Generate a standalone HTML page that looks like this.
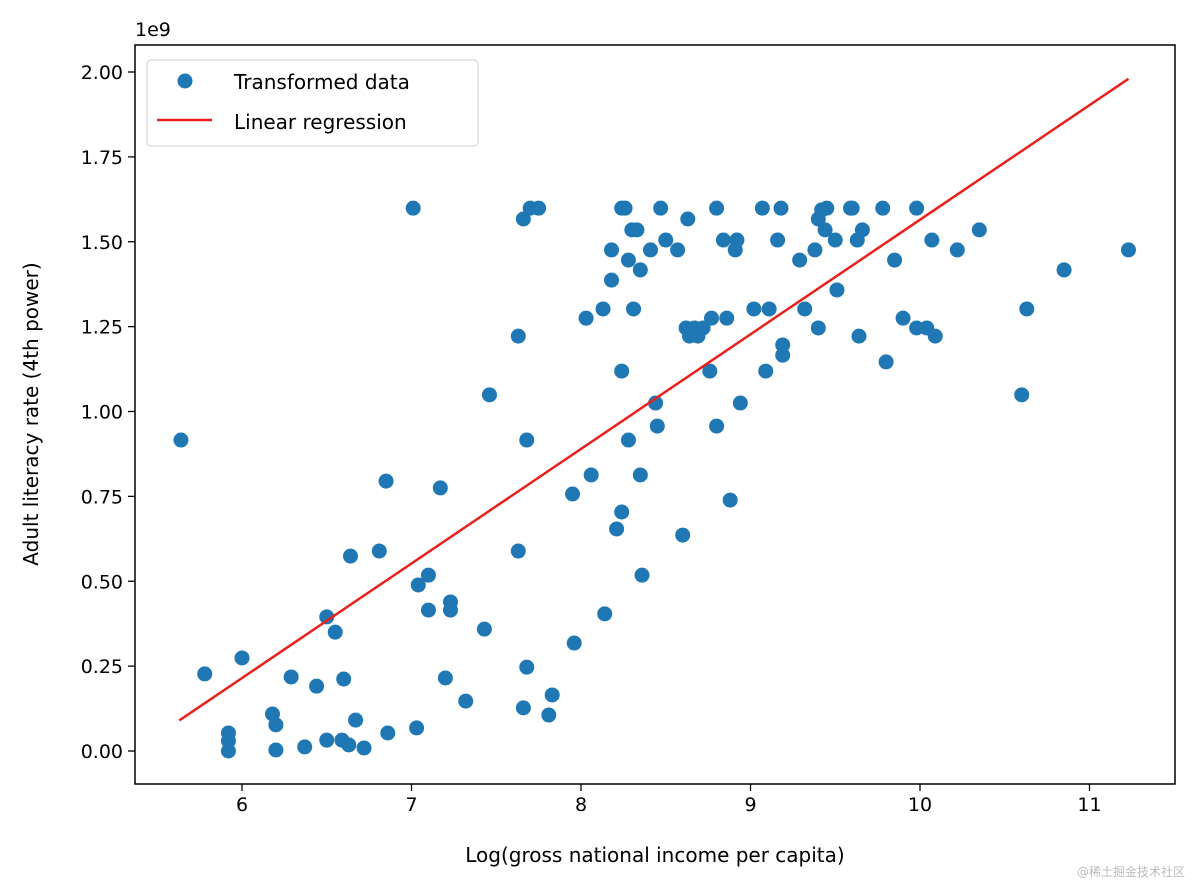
<!DOCTYPE html>
<html><head><meta charset="utf-8"><style>
body{margin:0;background:#fff;width:1194px;height:886px;overflow:hidden}
svg text{font-family:"DejaVu Sans","Liberation Sans",sans-serif;fill:#000}
</style></head><body>
<svg id="chart" width="1194" height="886" xmlns="http://www.w3.org/2000/svg"></svg>
<script>
const xVals=[5.64,5.78,5.92,5.92,5.92,6.0,6.18,6.20,6.20,6.29,6.37,6.44,6.50,6.50,6.55,6.59,6.60,6.63,6.64,6.67,6.72,6.81,6.85,6.86,7.01,7.03,7.04,7.10,7.10,7.17,7.20,7.23,7.23,7.32,7.43,7.46,7.63,7.63,7.66,7.66,7.68,7.68,7.70,7.75,7.81,7.83,7.95,7.96,8.03,8.06,8.13,8.14,8.18,8.18,8.21,8.24,8.24,8.24,8.26,8.28,8.28,8.30,8.33,8.31,8.35,8.35,8.36,8.41,8.44,8.45,8.47,8.50,8.57,8.60,8.62,8.63,8.64,8.67,8.69,8.72,8.76,8.77,8.80,8.80,8.84,8.86,8.88,8.91,8.92,8.94,9.02,9.07,9.09,9.11,9.16,9.18,9.19,9.19,9.29,9.32,9.38,9.40,9.42,9.40,9.44,9.45,9.50,9.51,9.59,9.60,9.63,9.64,9.66,9.78,9.80,9.85,9.90,9.98,9.98,10.04,10.07,10.09,10.22,10.35,10.60,10.63,10.85,11.23];
const yVals=[0.916,0.227,0.053,0.030,0.0,0.274,0.109,0.077,0.003,0.218,0.012,0.191,0.395,0.032,0.350,0.032,0.212,0.018,0.574,0.091,0.009,0.589,0.795,0.053,1.599,0.068,0.489,0.415,0.518,0.775,0.215,0.439,0.415,0.147,0.359,1.049,1.222,0.589,1.567,0.127,0.916,0.247,1.599,1.599,0.106,0.165,0.757,0.318,1.275,0.813,1.302,0.404,1.476,1.387,0.654,1.119,0.704,1.599,1.599,1.446,0.916,1.535,1.535,1.302,0.813,1.417,0.518,1.476,1.025,0.957,1.599,1.505,1.476,0.636,1.246,1.567,1.222,1.246,1.222,1.246,1.119,1.275,0.957,1.599,1.505,1.275,0.739,1.476,1.505,1.025,1.302,1.599,1.119,1.302,1.505,1.599,1.166,1.196,1.446,1.302,1.476,1.567,1.594,1.246,1.535,1.599,1.505,1.358,1.599,1.599,1.505,1.222,1.535,1.599,1.146,1.446,1.275,1.599,1.246,1.246,1.505,1.222,1.476,1.535,1.049,1.302,1.417,1.476];
const regX=[5.63,11.23];
const regY=[0.09,1.98];
const xTicks=[6,7,8,9,10,11];
const yTicks=[0,0.25,0.5,0.75,1.0,1.25,1.5,1.75,2.0];
const yTickLabels=["0.00","0.25","0.50","0.75","1.00","1.25","1.50","1.75","2.00"];

const L=135,R=1175,T=45,B=784;
const sx=v=>242+(v-6)*169.5;
const sy=v=>751-v*339.5;
const svg=document.getElementById('chart');
const NS='http://www.w3.org/2000/svg';
function mk(tag,attrs,parent){const e=document.createElementNS(NS,tag);for(const k in attrs)e.setAttribute(k,attrs[k]);(parent||svg).appendChild(e);return e;}

const pts=mk('g',{});


xVals.forEach((x,i)=>{
  const c=mk('circle',{cx:sx(x),cy:sy(yVals[i]),r:7.5,fill:'#1f77b4'},pts);
  
  
});
const rl=mk('line',{x1:sx(regX[0]),y1:sy(regY[0]),x2:sx(regX[1]),y2:sy(regY[1]),stroke:'#e8211d','stroke-width':2.5});



const frame=mk('rect',{x:L,y:T,width:R-L,height:B-T,fill:'none',stroke:'#000','stroke-width':1.5});



xTicks.forEach(t=>{
  const x=sx(t);
  mk('line',{x1:x,y1:B,x2:x,y2:B+7,stroke:'#000','stroke-width':1.3});
  const tx=mk('text',{x:x,y:B+27,'text-anchor':'middle','font-size':19});
  tx.textContent=t;
  
  
});
yTicks.forEach((t,i)=>{
  const y=sy(t);
  mk('line',{x1:L-7,y1:y,x2:L,y2:y,stroke:'#000','stroke-width':1.3});
  const tx=mk('text',{x:L-12,y:y+7,'text-anchor':'end','font-size':19});
  tx.textContent=yTickLabels[i];
  
  
});
const off=mk('text',{x:135,y:36,'font-size':19});off.textContent='1e9';


const xt=mk('text',{x:655,y:862,'text-anchor':'middle','font-size':20});xt.textContent='Log(gross national income per capita)';


const yt=mk('text',{x:0,y:0,'text-anchor':'middle','font-size':20,transform:'translate(38,414) rotate(-90)'});yt.textContent='Adult literacy rate (4th power)';



const lg=mk('g',{});


mk('rect',{x:147,y:60,width:331,height:86,rx:4,fill:'#fff','fill-opacity':0.8,stroke:'#ccc','stroke-width':1},lg);
mk('circle',{cx:185,cy:81,r:7.5,fill:'#1f77b4'},lg);
const t1=mk('text',{x:234,y:89,'font-size':20},lg);t1.textContent='Transformed data';


mk('line',{x1:157,y1:120,x2:212,y2:120,stroke:'#e8211d','stroke-width':2.5},lg);
const t2=mk('text',{x:234,y:129,'font-size':20},lg);t2.textContent='Linear regression';


const wm=mk('text',{x:1185,y:876,'text-anchor':'end','font-size':12,fill:'#bbb'});
wm.style.fill='#bbb';
wm.textContent='@稀土掘金技术社区';


wm.setAttribute('font-family','"Liberation Sans","Noto Sans CJK SC",sans-serif');
</script>
</body></html>
